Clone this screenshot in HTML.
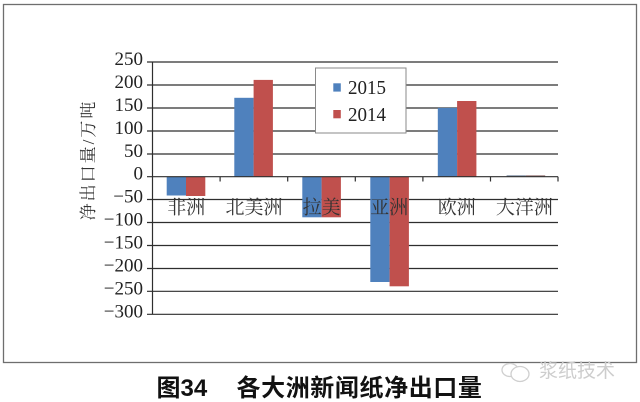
<!DOCTYPE html>
<html><head><meta charset="utf-8">
<style>
html,body{margin:0;padding:0;background:#fff;}
svg{display:block;}
</style></head>
<body>
<svg width="640" height="402" viewBox="0 0 640 402" xmlns="http://www.w3.org/2000/svg">
<rect x="0" y="0" width="640" height="402" fill="#fff"/>
<!-- frame -->
<rect x="3.5" y="4.5" width="633" height="358" fill="#fff" stroke="#6e6e6e" stroke-width="1.3"/>

<!-- gridlines -->
<g stroke="#2e2e2e" stroke-width="1.2">
<line x1="147" y1="62" x2="558" y2="62"/>
<line x1="147" y1="85" x2="558" y2="85"/>
<line x1="147" y1="108" x2="558" y2="108"/>
<line x1="147" y1="131" x2="558" y2="131"/>
<line x1="147" y1="154" x2="558" y2="154"/>
<line x1="147" y1="199.5" x2="558" y2="199.5"/>
<line x1="147" y1="222.5" x2="558" y2="222.5"/>
<line x1="147" y1="245.5" x2="558" y2="245.5"/>
<line x1="147" y1="268.5" x2="558" y2="268.5"/>
<line x1="147" y1="291.3" x2="558" y2="291.3"/>
<line x1="147" y1="314.3" x2="558" y2="314.3"/>
</g>

<!-- bars -->
<g>
<!-- 非洲 -->
<rect x="166.7" y="176.7" width="19.3" height="18.8" fill="#4F81BD"/>
<rect x="186" y="176.7" width="19.3" height="19.3" fill="#C0504D"/>
<!-- 北美洲 -->
<rect x="234.3" y="97.8" width="19.3" height="78.9" fill="#4F81BD"/>
<rect x="253.6" y="79.9" width="19.3" height="96.8" fill="#C0504D"/>
<!-- 拉美 -->
<rect x="302.3" y="176.7" width="19.3" height="40.6" fill="#4F81BD"/>
<rect x="321.6" y="176.7" width="19.3" height="40.6" fill="#C0504D"/>
<!-- 亚洲 -->
<rect x="370.3" y="176.7" width="19.3" height="105.3" fill="#4F81BD"/>
<rect x="389.6" y="176.7" width="19.3" height="109.6" fill="#C0504D"/>
<!-- 欧洲 -->
<rect x="437.8" y="107.9" width="19.3" height="68.8" fill="#4F81BD"/>
<rect x="457.1" y="101" width="19.3" height="75.7" fill="#C0504D"/>
<!-- 大洋洲 -->
<rect x="506.6" y="175.3" width="19.3" height="1.4" fill="#7a8aa0"/>
<rect x="525.9" y="175.3" width="19.3" height="1.4" fill="#9a7a7a"/>
</g>

<!-- zero line and axes -->
<g stroke="#2e2e2e" stroke-width="1.2">
<line x1="147" y1="176.7" x2="558" y2="176.7"/>
<line x1="152.5" y1="62" x2="152.5" y2="314.3"/>
<line x1="220.1" y1="176.7" x2="220.1" y2="181.5"/>
<line x1="287.7" y1="176.7" x2="287.7" y2="181.5"/>
<line x1="355.3" y1="176.7" x2="355.3" y2="181.5"/>
<line x1="422.9" y1="176.7" x2="422.9" y2="181.5"/>
<line x1="490.5" y1="176.7" x2="490.5" y2="181.5"/>
<line x1="558" y1="176.7" x2="558" y2="181.5"/>
</g>

<!-- y tick labels -->
<g font-family="'Liberation Serif', serif" font-size="19" fill="#222" text-anchor="end">
<text x="143" y="65">250</text>
<text x="143" y="88">200</text>
<text x="143" y="111">150</text>
<text x="143" y="134">100</text>
<text x="143" y="157">50</text>
<text x="143" y="179.5">0</text>
<text x="143" y="202.5">−50</text>
<text x="143" y="225.5">−100</text>
<text x="143" y="248.5">−150</text>
<text x="143" y="271.5">−200</text>
<text x="143" y="294.3">−250</text>
<text x="143" y="317.3">−300</text>
</g>

<!-- y axis title -->
<text transform="translate(94,160) rotate(-90)" text-anchor="middle" font-family="'Liberation Serif','Noto Serif CJK SC',serif" font-size="17" letter-spacing="2" fill="#333">净出口量/万吨</text>

<!-- category labels -->
<g font-family="'Liberation Serif','Noto Serif CJK SC',serif" font-size="19" fill="#333" text-anchor="middle">
<text x="186.3" y="213.5">非洲</text>
<text x="254" y="213.5">北美洲</text>
<text x="321.6" y="213.5">拉美</text>
<text x="389.2" y="213.5">亚洲</text>
<text x="456.8" y="213.5">欧洲</text>
<text x="524.4" y="213.5">大洋洲</text>
</g>

<!-- legend -->
<rect x="315.5" y="68" width="90.5" height="65" fill="#fff" stroke="#8a8a8a" stroke-width="1"/>
<rect x="333.3" y="83.3" width="7.5" height="8.3" fill="#4F81BD"/>
<rect x="333.3" y="110" width="7.5" height="8.3" fill="#C0504D"/>
<g font-family="'Liberation Serif', serif" font-size="20" fill="#222">
<text x="348" y="94" textLength="38" lengthAdjust="spacingAndGlyphs">2015</text>
<text x="348" y="121" textLength="38" lengthAdjust="spacingAndGlyphs">2014</text>
</g>

<!-- watermark -->
<g stroke="#cfcfcf" stroke-width="1.3" fill="none">
<ellipse cx="510" cy="370" rx="8" ry="6.5"/>
<ellipse cx="520" cy="374" rx="9" ry="7.5" fill="#fff"/>
</g>
<text x="539" y="377" font-family="'Liberation Sans','Noto Sans CJK SC',sans-serif" font-size="19" fill="#cdcdcd">浆纸技术</text>

<!-- caption -->
<text x="156.5" y="396" font-family="'Liberation Sans','WenQuanYi Zen Hei','Noto Sans CJK SC',sans-serif" font-size="24" font-weight="bold" fill="#111">图34</text>
<text x="236.5" y="396" font-family="'Liberation Sans','WenQuanYi Zen Hei','Noto Sans CJK SC',sans-serif" font-size="24" font-weight="bold" letter-spacing="0.6" fill="#111">各大洲新闻纸净出口量</text>
</svg>
</body></html>
